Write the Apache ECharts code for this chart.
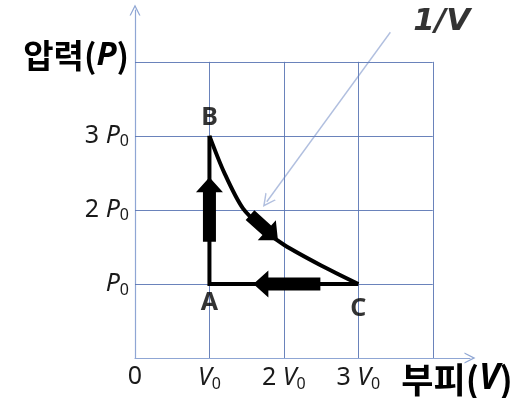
<!DOCTYPE html>
<html>
<head>
<meta charset="utf-8">
<script src="https://cdn.jsdelivr.net/npm/echarts@6/dist/echarts.min.js"></script>
<style>
html, body { margin: 0; padding: 0; background: #fff; }
#main { width: 517px; height: 398px; }
</style>
</head>
<body>
<div id="main"></div>
<script>
// axis ticks (units of V0 and P0)
var xTickLabels = ['0', '{i|V}{s|0}', '2 {i|V}{s|0}', '3 {i|V}{s|0}', ''];
var yTickLabels = ['', '{i|P}{s|0}', '2 {i|P}{s|0}', '3 {i|P}{s|0}', '{k|압력(}{ki|P}{k|)}'];
var xName = '{k|부피(}{ki|V}{k|)}';
var gridVals = [1, 2, 3, 4];

// cycle C -> A -> B, then the curve B -> C
var cycleV = [3, 1, 1];
var cycleP = [1, 1, 3];
var curveV = [1, 1.2, 1.45, 1.75, 2, 2.5, 3];
var curveP = [3, 2.5, 2.02, 1.72, 1.53, 1.25, 1];

// state points
var pointNames = ['A', 'B', 'C'];
var pointV = [1, 1, 3];
var pointP = [1, 3, 1];

// block arrows: [fromV, fromP, tipV, tipP]
var blockArrows = [
	[1, 1.57, 1, 2.44],
	[2.49, 1, 1.59, 1],
	[1.545, 1.93, 1.92, 1.59]
];

// thin pointer for "1/V"
var pointerFrom = [3.43, 4.40];
var pointerTo = [1.77, 2.11];
var noteText = '1/V';
var notePos = [4.12, 4.54];

var gridColor = '#5a76b4';
var axisColor = '#8fa6d4';
var latin = '"Noto Sans", "DejaVu Sans", sans-serif';
var kr = '"Noto Sans CJK KR", sans-serif';
var chevron = 'path://M0,10L5,0L10,10L8.8,10L5,2.6L1.2,10Z';

var richTick = {
	i: { fontFamily: latin, fontStyle: 'italic', fontSize: 25, color: '#1a1a1a' },
	s: { fontFamily: latin, fontSize: 16, color: '#1a1a1a', padding: [12, 0, 0, 0] },
	k: { fontFamily: kr, fontWeight: 'bold', fontSize: 33, color: '#000', padding: [0, 0, 12, 0] },
	ki: { fontFamily: latin, fontWeight: 'bold', fontStyle: 'italic', fontSize: 33, color: '#000', padding: [0, 0, 12, 0] }
};

var richName = {
	k: { fontFamily: kr, fontWeight: 'bold', fontSize: 35, color: '#000' },
	ki: { fontFamily: latin, fontWeight: 'bold', fontStyle: 'italic', fontSize: 35, color: '#000' }
};

var gridLines = [];
gridVals.forEach(function (v) {
	gridLines.push({ coords: [[v, 0], [v, 4]] });
	gridLines.push({ coords: [[0, v], [4, v]] });
});

var curveData = curveV.map(function (v, i) { return [v, curveP[i]]; });
var cycleData = cycleV.map(function (v, i) { return [v, cycleP[i]]; });

var labelPos = { A: 'bottom', B: 'top', C: 'bottom' };
var labelGap = { A: 6, B: 5, C: 12 };
var pointData = pointNames.map(function (n, i) {
	return {
		name: n,
		value: [pointV[i], pointP[i]],
		label: { position: labelPos[n], distance: labelGap[n] }
	};
});

var myChart = echarts.init(document.getElementById('main'));

var option = {
	animation: false,
	grid: { left: 135, right: 47, top: 10, bottom: 40 },
	xAxis: {
		type: 'value',
		min: 0,
		max: 4.5,
		interval: 1,
		name: xName,
		nameLocation: 'end',
		nameGap: -13,
		nameTextStyle: {
			align: 'center', verticalAlign: 'top', padding: [4, 0, 0, 0],
			rich: richName
		},
		axisLine: {
			show: true,
			symbol: ['none', chevron],
			symbolSize: [11, 13],
			lineStyle: { color: axisColor, width: 1.2 }
		},
		axisTick: { show: false },
		splitLine: { show: false },
		axisLabel: {
			margin: 6,
			fontFamily: latin,
			fontSize: 25,
			color: '#1a1a1a',
			rich: richTick,
			formatter: function (v) { return xTickLabels[Math.round(v)] || ''; }
		}
	},
	yAxis: {
		type: 'value',
		min: 0,
		max: 4.7,
		interval: 1,
		axisLine: {
			show: true,
			symbol: ['none', chevron],
			symbolSize: [11, 13],
			lineStyle: { color: axisColor, width: 1.2 }
		},
		axisTick: { show: false },
		splitLine: { show: false },
		axisLabel: {
			margin: 6,
			fontFamily: latin,
			fontSize: 25,
			color: '#1a1a1a',
			rich: richTick,
			formatter: function (v) { return yTickLabels[Math.round(v)] || ''; }
		}
	},
	series: [
		{
			type: 'lines',
			coordinateSystem: 'cartesian2d',
			silent: true,
			lineStyle: { color: gridColor, width: 1, opacity: 0.9 },
			data: gridLines
		},
		{
			type: 'line',
			data: cycleData,
			showSymbol: false,
			lineStyle: { color: '#000', width: 4, join: 'miter' }
		},
		{
			type: 'line',
			data: curveData,
			smooth: 0.3,
			showSymbol: false,
			lineStyle: { color: '#000', width: 4 }
		},
		{
			type: 'custom',
			data: blockArrows,
			encode: { x: [0, 2], y: [1, 3] },
			renderItem: function (params, api) {
				var p0 = api.coord([api.value(0), api.value(1)]);
				var p1 = api.coord([api.value(2), api.value(3)]);
				var dx = p1[0] - p0[0], dy = p1[1] - p0[1];
				var len = Math.sqrt(dx * dx + dy * dy);
				var ux = dx / len, uy = dy / len, nx = -uy, ny = ux;
				var head = 15, hw = 13.5, sw = 6.5;
				var bx = p1[0] - ux * head, by = p1[1] - uy * head;
				return {
					type: 'polygon',
					shape: {
						points: [
							[p0[0] + nx * sw, p0[1] + ny * sw],
							[bx + nx * sw, by + ny * sw],
							[bx + nx * hw, by + ny * hw],
							p1,
							[bx - nx * hw, by - ny * hw],
							[bx - nx * sw, by - ny * sw],
							[p0[0] - nx * sw, p0[1] - ny * sw]
						]
					},
					style: { fill: '#000' }
				};
			}
		},
		{
			type: 'lines',
			coordinateSystem: 'cartesian2d',
			silent: true,
			symbol: ['none', chevron],
			symbolSize: [12, 13],
			lineStyle: { color: '#6480c0', width: 1.4 },
			data: [{ coords: [pointerFrom, pointerTo] }]
		},
		{
			type: 'scatter',
			symbolSize: 0,
			silent: true,
			data: pointData,
			label: {
				show: true,
				formatter: '{b}',
				fontFamily: latin,
				fontWeight: 'bold',
				fontSize: 25,
				color: '#000'
			}
		},
		{
			type: 'scatter',
			symbolSize: 0,
			silent: true,
			data: [{ name: noteText, value: notePos }],
			label: {
				show: true,
				position: 'inside',
				formatter: '{b}',
				fontFamily: '"DejaVu Sans", sans-serif',
				fontWeight: 'bold',
				fontStyle: 'italic',
				fontSize: 31,
				color: '#000'
			}
		}
	]
};

myChart.setOption(option);
</script>
</body>
</html>
